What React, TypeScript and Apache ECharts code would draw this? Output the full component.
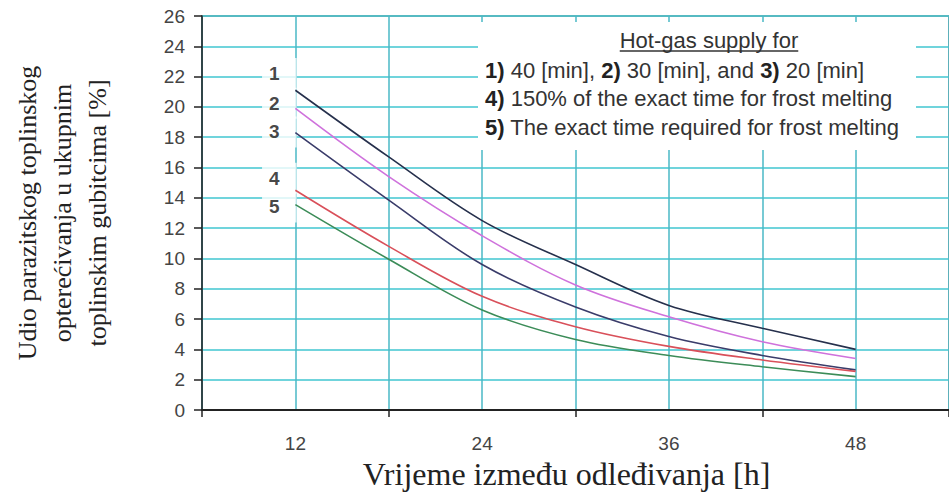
import React, { useEffect, useRef } from "react";
import * as echarts from "echarts";

// ---- data ----
const xValues = [12, 18, 24, 30, 36, 42, 48];
const curve1 = [21.1, 16.7, 12.5, 9.6, 6.9, 5.4, 4.0];
const curve2 = [19.9, 15.4, 11.5, 8.25, 6.15, 4.5, 3.4];
const curve3 = [18.3, 13.85, 9.6, 6.8, 4.85, 3.6, 2.65];
const curve4 = [14.5, 10.8, 7.5, 5.5, 4.2, 3.3, 2.55];
const curve5 = [13.55, 9.95, 6.6, 4.65, 3.6, 2.85, 2.2];
const curves = [curve1, curve2, curve3, curve4, curve5];
const curveNames = ["1", "2", "3", "4", "5"];
const curveColors = ["#26304c", "#cf72dc", "#3a3c6a", "#d9505a", "#3c8c58"];

// curve number tags (data units)
const tagX = [10.97, 10.97, 10.97, 10.97, 10.97];
const tagY = [22.2, 20.25, 18.35, 15.3, 13.4];

const yMin = 0;
const yMax = 26;
const yStep = 2;
const xMin = 6;
const xMax = 54;
const xStep = 6;
const xCategoryLabels = ["12", "24", "36", "48"];

const xTitle = "Vrijeme između odleđivanja [h]";
const yTitle = "Udio parazitskog toplinskog\nopterećivanja u ukupnim\ntoplinskim gubitcima [%]";

const legendTitle = "Hot-gas supply for";
const legendLines = [
  "{b|1)} 40 [min], {b|2)} 30 [min], and {b|3)} 20 [min]",
  "{b|4)} 150% of the exact time for frost melting",
  "{b|5)} The exact time required for frost melting",
];

const SANS = "'Liberation Sans', Arial, sans-serif";
const SERIF = "'Liberation Serif', 'Times New Roman', serif";

export default function App() {
  const ref = useRef<HTMLDivElement>(null);

  useEffect(() => {
    if (!ref.current) return;
    const chart = echarts.init(ref.current, null, { renderer: "svg" });

    let titleW = 178;
    try {
      const ctx = document.createElement("canvas").getContext("2d");
      if (ctx) {
        ctx.font = "22px 'Liberation Sans'";
        titleW = ctx.measureText(legendTitle).width;
      }
    } catch (e) {}
    const titleCx = 709;

    const lineSeries = curves.map((vals, i) => ({
      type: "line",
      name: curveNames[i],
      xAxisIndex: 1,
      data: xValues.map((x, j) => [x, vals[j]]),
      smooth: 0.35,
      symbol: "none",
      z: 5,
      lineStyle: { color: curveColors[i], width: 1.6 },
      itemStyle: { color: curveColors[i] },
    }));

    const tagSeries = {
      type: "scatter",
      xAxisIndex: 1,
      z: 3,
      symbolSize: 2,
      itemStyle: { color: "rgba(255,255,255,0)" },
      data: tagX.map((x, i) => ({ value: [x, tagY[i]], name: curveNames[i] })),
      label: {
        show: true,
        position: "inside",
        formatter: "{b}",
        fontFamily: SANS,
        fontSize: 19,
        fontWeight: "bold",
        color: "#151515",
        backgroundColor: "#ffffff",
        padding: [6, 17, 6, 7],
      },
    };

    const option: any = {
      animation: false,
      backgroundColor: "#ffffff",
      grid: {
        left: 202,
        top: 16,
        width: 755,
        height: 394,
        show: true,
        borderColor: "#999",
        borderWidth: 2,
        backgroundColor: "rgba(0,0,0,0)",
      },
      xAxis: [
        {
          type: "category",
          data: xCategoryLabels,
          boundaryGap: true,
          position: "bottom",
          axisLine: { show: true, onZero: false, lineStyle: { color: "#222", width: 2 } },
          axisTick: {
            show: true,
            alignWithLabel: false,
            interval: 0,
            length: 7,
            lineStyle: { color: "#222", width: 1.5 },
          },
          axisLabel: {
            show: true,
            interval: 0,
            fontFamily: SANS,
            fontSize: 19,
            color: "#444",
            margin: 24,
          },
          splitLine: { show: false },
          name: xTitle,
          nameLocation: "middle",
          nameGap: 48,
          nameTextStyle: {
            fontFamily: SERIF,
            fontSize: 32,
            color: "#222",
            padding: [0, 18, 0, 0],
          },
        },
        {
          type: "value",
          min: xMin,
          max: xMax,
          interval: xStep,
          position: "bottom",
          axisLine: { show: false },
          axisTick: { show: false },
          axisLabel: { show: false },
          splitLine: { show: true, lineStyle: { color: "#4ab8c6", width: 1.5 } },
        },
      ],
      yAxis: {
        type: "value",
        min: yMin,
        max: yMax,
        interval: yStep,
        axisLine: { show: true, onZero: false, lineStyle: { color: "#222", width: 1.5 } },
        axisTick: { show: true, length: 8, lineStyle: { color: "#222", width: 1.5 } },
        axisLabel: {
          fontFamily: SANS,
          fontSize: 19,
          color: "#444",
          margin: 17,
          showMinLabel: true,
          showMaxLabel: true,
        },
        splitLine: { show: true, lineStyle: { color: "#40c6d0", width: 1.5 } },
        name: yTitle,
        nameLocation: "middle",
        nameRotate: 90,
        nameGap: 87,
        nameTextStyle: {
          fontFamily: SERIF,
          fontSize: 26,
          lineHeight: 35,
          color: "#222",
          align: "center",
        },
      },
      graphic: [
        {
          type: "rect",
          z: 10,
          shape: { x: 478, y: 22, width: 438, height: 128 },
          style: { fill: "#ffffff" },
        },
        {
          type: "text",
          z: 11,
          x: titleCx,
          y: 40,
          style: {
            text: legendTitle,
            fontFamily: SANS,
            fontSize: 22,
            fill: "#333",
            align: "center",
            verticalAlign: "middle",
          },
        },
        {
          type: "line",
          z: 11,
          shape: { x1: titleCx - titleW / 2, y1: 51, x2: titleCx + titleW / 2, y2: 51 },
          style: { stroke: "#333", lineWidth: 1.3 },
        },
        ...legendLines.map((t, i) => ({
          type: "text",
          z: 11,
          x: 485,
          y: 70 + i * 28.5,
          style: {
            text: t,
            fontFamily: SANS,
            fontSize: 22,
            fill: "#333",
            align: "left",
            verticalAlign: "middle",
            rich: {
              b: { fontFamily: SANS, fontSize: 22, fontWeight: "bold", fill: "#222" },
            },
          },
        })),
      ],
      series: [tagSeries, ...lineSeries],
    };

    chart.setOption(option);
    return () => chart.dispose();
  }, []);

  return (
    <div
      ref={ref}
      style={{ position: "fixed", left: 0, top: 0, width: 949, height: 497, background: "#fff" }}
    />
  );
}
